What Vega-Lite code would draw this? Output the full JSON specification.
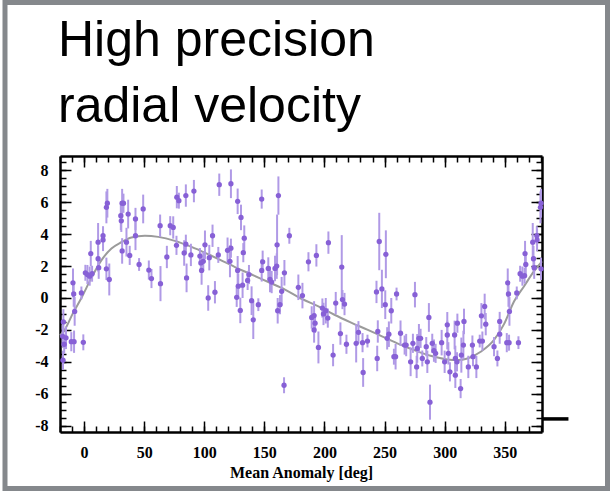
{
"$schema": "https://vega.github.io/schema/vega-lite/v6.json",
"width": 482, "height": 276,
"autosize": {"type": "none"},
"padding": {"left": 60, "top": 156, "right": 68, "bottom": 59},
"background": "white",
"title": {"text": ["High precision", "radial velocity"], "font": "Liberation Sans", "fontSize": 50, "fontWeight": "normal", "color": "black", "anchor": "start", "frame": "group", "lineHeight": 66, "baseline": "alphabetic", "offset": 31, "dy": 203, "dx": -2},
"config": {"view": {"stroke": null}, "axis": {"labelFont": "Liberation Serif", "labelFontWeight": "bold", "labelFontSize": 16, "labelColor": "black", "tickColor": "black", "tickWidth": 1.5, "domainColor": "black", "domainWidth": 2.5, "grid": false, "titleFont": "Liberation Serif", "titleFontWeight": "bold", "titleFontSize": 16, "titleColor": "black"}},
"datasets": {
"obs": [
{"x":-17.5,"y":-3.9,"e":0.6},{"x":-17.2,"y":-1.5,"e":0.8},{"x":-17.8,"y":-2.4,"e":0.7},{"x":-16.5,"y":-2.9,"e":0.6},{"x":-15,"y":-2.5,"e":0.7},{"x":-10.6,"y":-2.74,"e":0.6},{"x":-8.3,"y":-2.74,"e":0.7},{"x":-0.6,"y":-2.78,"e":0.5},{"x":-9.2,"y":0.95,"e":0.9},{"x":-8.6,"y":0.25,"e":0.8},{"x":-7.8,"y":-0.84,"e":0.9},{"x":-2.2,"y":0.32,"e":0.4},{"x":1.1,"y":1.58,"e":0.5},{"x":2.8,"y":1.47,"e":0.6},{"x":4.7,"y":1.37,"e":0.6},{"x":5.6,"y":2.78,"e":0.8},{"x":6.7,"y":1.52,"e":0.5},{"x":11.7,"y":3.5,"e":1.2},{"x":11.7,"y":2.46,"e":0.8},{"x":12.2,"y":1.9,"e":0.7},{"x":15.8,"y":3.64,"e":0.7},{"x":15.8,"y":3.9,"e":0.6},{"x":18.6,"y":5.68,"e":1.0},{"x":19.4,"y":5.94,"e":0.9},{"x":18.6,"y":1.83,"e":0.7},{"x":21,"y":1.16,"e":1.0},{"x":30.6,"y":5.16,"e":0.9},{"x":31,"y":4.84,"e":0.7},{"x":31.7,"y":5.94,"e":0.9},{"x":32.8,"y":5.94,"e":0.6},{"x":36.7,"y":5.26,"e":0.9},{"x":31.7,"y":2.95,"e":0.8},{"x":35.3,"y":3.5,"e":0.9},{"x":38,"y":2.67,"e":0.6},{"x":42.8,"y":4.95,"e":0.7},{"x":42.8,"y":3.9,"e":0.9},{"x":45.8,"y":2.1,"e":0.4},{"x":49.2,"y":5.58,"e":0.9},{"x":53.9,"y":1.75,"e":0.6},{"x":56.1,"y":1.22,"e":0.6},{"x":63.3,"y":4.53,"e":0.7},{"x":63.6,"y":0.9,"e":1.1},{"x":68.9,"y":2.57,"e":0.7},{"x":71.7,"y":4.53,"e":0.6},{"x":74.2,"y":4.42,"e":0.7},{"x":76.9,"y":3.3,"e":0.6},{"x":77.2,"y":6.32,"e":0.7},{"x":78.9,"y":6.1,"e":0.5},{"x":84.7,"y":6.42,"e":0.7},{"x":84.7,"y":3.37,"e":0.6},{"x":83.3,"y":2.82,"e":0.8},{"x":85.3,"y":1.26,"e":0.9},{"x":88.9,"y":2.7,"e":0.7},{"x":91.4,"y":6.7,"e":0.7},{"x":96.4,"y":2.63,"e":0.5},{"x":97.2,"y":2.2,"e":0.6},{"x":97.8,"y":1.73,"e":0.9},{"x":99.2,"y":2.3,"e":0.6},{"x":100.6,"y":3.33,"e":0.9},{"x":103.3,"y":0.0,"e":0.8},{"x":104.2,"y":2.53,"e":0.8},{"x":106.9,"y":3.9,"e":0.7},{"x":108.9,"y":0.36,"e":0.7},{"x":111.7,"y":2.7,"e":0.5},{"x":112.5,"y":7.1,"e":0.7},
{"x":122.2,"y":7.16,"e":0.9},{"x":127.8,"y":6.06,"e":0.8},{"x":130.6,"y":5.05,"e":0.8},{"x":133.3,"y":3.75,"e":0.8},{"x":132.5,"y":2.84,"e":0.6},{"x":119.4,"y":2.99,"e":0.8},{"x":122.2,"y":3.12,"e":0.6},{"x":121.4,"y":2.3,"e":1.0},{"x":127.8,"y":1.73,"e":0.9},{"x":128.3,"y":0.74,"e":0.8},{"x":127,"y":0.04,"e":0.6},{"x":130,"y":-0.78,"e":0.8},{"x":131.9,"y":0.8,"e":0.8},{"x":136.1,"y":1.1,"e":0.6},{"x":137.2,"y":1.47,"e":0.6},{"x":139.4,"y":-0.17,"e":0.9},{"x":140.8,"y":-1.37,"e":1.2},{"x":145,"y":-0.42,"e":0.4},{"x":147.8,"y":6.2,"e":0.6},{"x":148.6,"y":2.27,"e":0.7},{"x":147.8,"y":1.73,"e":0.7},{"x":153.3,"y":1.85,"e":0.7},{"x":154.7,"y":1.16,"e":0.8},{"x":156.1,"y":1.0,"e":0.7},{"x":158.9,"y":1.85,"e":0.8},{"x":160.3,"y":2.0,"e":0.8},{"x":160.6,"y":3.33,"e":1.9},{"x":161.7,"y":6.42,"e":1.2},{"x":161.1,"y":-0.8,"e":0.8},{"x":163,"y":-0.42,"e":0.6},{"x":164.4,"y":0.42,"e":0.9},{"x":166.7,"y":1.58,"e":0.8},{"x":166.4,"y":-5.47,"e":0.5},{"x":170.8,"y":3.9,"e":0.5},{"x":178.3,"y":0.67,"e":0.8},{"x":181.7,"y":0.15,"e":0.8},{"x":186.7,"y":2.27,"e":0.6},{"x":193.3,"y":2.67,"e":0.7},{"x":189.4,"y":-1.22,"e":0.7},{"x":191.4,"y":-1.1,"e":0.9},{"x":192.2,"y":-1.58,"e":0.6},{"x":191.4,"y":-2.0,"e":0.8},{"x":195,"y":-3.1,"e":1.0},{"x":198.3,"y":-0.63,"e":0.6},{"x":199.2,"y":-1.0,"e":0.7},{"x":201.1,"y":-0.8,"e":0.8},{"x":202.8,"y":-1.26,"e":0.6},{"x":203.3,"y":3.47,"e":0.7},{"x":207.2,"y":-3.58,"e":0.7},{"x":209.4,"y":-0.32,"e":0.7},{"x":213.3,"y":-2.23,"e":0.7},{"x":214.4,"y":1.94,"e":2.0},{"x":215,"y":-0.1,"e":0.6},{"x":216.7,"y":-0.38,"e":0.7},{"x":218.3,"y":-2.9,"e":0.6},{"x":226.4,"y":-2.84,"e":1.2},{"x":228.3,"y":-2.15,"e":0.7},{"x":231.7,"y":-2.8,"e":0.6},{"x":232.2,"y":-4.67,"e":0.9},{"x":235.8,"y":-2.7,"e":0.4},{"x":243.9,"y":-3.79,"e":0.8},{"x":244.4,"y":-2.1,"e":0.7},{"x":243.3,"y":0.38,"e":0.7},{"x":245.6,"y":3.54,"e":1.8},{"x":247.8,"y":0.57,"e":1.2},
{"x":251.1,"y":2.74,"e":1.5},{"x":250.6,"y":-0.42,"e":0.9},{"x":255.6,"y":-0.8,"e":0.8},{"x":252.2,"y":-2.53,"e":0.7},{"x":253.6,"y":-2.27,"e":0.8},{"x":257.8,"y":-3.68,"e":0.5},{"x":259.2,"y":-3.68,"e":0.8},{"x":260,"y":0.25,"e":0.4},{"x":263.3,"y":-2.21,"e":0.8},{"x":266.7,"y":-2.95,"e":0.6},{"x":268,"y":-2.95,"e":0.7},{"x":271.7,"y":-4.0,"e":0.9},{"x":273.6,"y":-2.84,"e":0.6},{"x":275.3,"y":0.21,"e":0.8},{"x":276.7,"y":-4.32,"e":0.7},{"x":277.2,"y":-3.16,"e":0.9},{"x":278.6,"y":-2.53,"e":0.9},{"x":280,"y":-2.53,"e":0.6},{"x":281.4,"y":-3.79,"e":0.5},{"x":284.7,"y":-3.05,"e":0.6},{"x":285.6,"y":-4.0,"e":0.7},{"x":286.9,"y":-1.22,"e":0.9},{"x":287.8,"y":-6.53,"e":1.1},{"x":289.7,"y":-2.84,"e":0.6},{"x":291.1,"y":-3.3,"e":0.7},{"x":292.5,"y":-3.47,"e":0.6},{"x":297.5,"y":-2.8,"e":0.8},{"x":300,"y":-4.0,"e":0.7},{"x":302.2,"y":-1.68,"e":0.8},{"x":302.2,"y":-2.32,"e":0.9},{"x":303.1,"y":-3.47,"e":0.7},{"x":304.4,"y":-4.63,"e":0.6},{"x":308.3,"y":-2.32,"e":0.9},{"x":308.9,"y":-3.79,"e":0.8},{"x":308.9,"y":-4.84,"e":0.8},{"x":310.6,"y":-1.58,"e":0.6},{"x":310.3,"y":-4.0,"e":0.6},{"x":313.3,"y":-5.68,"e":0.6},{"x":313.9,"y":-3.58,"e":1.1},{"x":316.1,"y":-1.47,"e":0.8},{"x":315.6,"y":-2.95,"e":0.9},{"x":319.7,"y":-4.32,"e":0.7},{"x":323.1,"y":-2.95,"e":0.6},{"x":323.6,"y":-3.68,"e":0.6},{"x":326.4,"y":-4.32,"e":0.7},{"x":329.2,"y":-2.7,"e":0.4},{"x":330.6,"y":-1.12,"e":0.8},{"x":331.4,"y":-2.7,"e":0.6},{"x":333.3,"y":-0.53,"e":0.8},{"x":334.2,"y":-1.64,"e":0.7},{"x":341.1,"y":-3.05,"e":0.6},{"x":343.9,"y":-3.79,"e":0.5},{"x":345.8,"y":-1.47,"e":0.6},{"x":345.8,"y":-2.27,"e":0.6},{"x":351.7,"y":-2.8,"e":0.6},{"x":353.6,"y":-2.8,"e":0.5},{"x":361.4,"y":-2.8,"e":0.4},{"x":352.5,"y":0.95,"e":0.9},{"x":353.1,"y":0.25,"e":0.8},{"x":353.9,"y":-0.84,"e":0.9},{"x":360,"y":0.32,"e":0.4},{"x":362.8,"y":1.52,"e":0.5},{"x":364.7,"y":1.37,"e":0.6},{"x":366.5,"y":1.4,"e":0.5},{"x":367.5,"y":2.1,"e":0.6},{"x":366.9,"y":2.78,"e":0.8},{"x":373.3,"y":3.5,"e":1.2},{"x":373.9,"y":2.46,"e":0.8},{"x":374.5,"y":1.9,"e":0.7},{"x":376.9,"y":3.64,"e":0.7},{"x":376.7,"y":3.9,"e":0.6},{"x":379.7,"y":5.68,"e":1.0},{"x":380.2,"y":5.94,"e":0.9},{"x":380.2,"y":1.83,"e":0.7}
],
"curve": [
{"x":-20,"y":-2.35},{"x":-16.1,"y":-2.0},{"x":-9.2,"y":-0.95},{"x":-2.2,"y":0},{"x":6.1,"y":1.26},{"x":14.4,"y":2.36},{"x":22.8,"y":3.1},{"x":31.1,"y":3.5},{"x":39.4,"y":3.79},{"x":50.6,"y":3.9},{"x":61.7,"y":3.83},{"x":75.6,"y":3.58},{"x":89.4,"y":3.2},{"x":103.3,"y":2.74},{"x":115.8,"y":2.3},{"x":125.6,"y":1.94},{"x":139.4,"y":1.47},{"x":153.3,"y":1.0},{"x":167.2,"y":0.53},{"x":179.7,"y":0},{"x":195,"y":-0.53},{"x":208.3,"y":-1.05},{"x":222.2,"y":-1.54},{"x":236.1,"y":-2.0},{"x":248.3,"y":-2.42},{"x":260.6,"y":-2.84},{"x":274.4,"y":-3.26},{"x":288.3,"y":-3.62},{"x":302.2,"y":-3.85},{"x":310.6,"y":-3.89},{"x":319,"y":-3.79},{"x":330,"y":-3.37},{"x":341.1,"y":-2.63},{"x":349.4,"y":-1.64},{"x":357.8,"y":-0.21},{"x":366.1,"y":0.74},{"x":374.4,"y":1.68},{"x":381,"y":2.3}
],
"stray": [{"x":381,"x2":403,"y":-7.58}],
"frame": [{"left":-65.76,"right":435.5,"top":18.52,"bottom":-11.94}]
},
"layer": [
{"data": {"name": "frame"},
 "mark": {"type": "rect", "filled": false, "fill": "transparent", "stroke": "#85888c", "strokeWidth": 5, "strokeOpacity": 1, "clip": false},
 "encoding": {
  "x": {"field": "left", "type": "quantitative", "scale": {"domain": [-20, 381], "nice": false, "zero": false}, "axis": null},
  "x2": {"field": "right"},
  "y": {"field": "top", "type": "quantitative", "scale": {"domain": [-8.4, 8.9], "nice": false, "zero": false}, "axis": null},
  "y2": {"field": "bottom"}
 }},
{"mark": {"type": "rule", "color": "#444444", "strokeWidth": 1.5, "strokeDash": [6, 4]},
 "encoding": {"y": {"datum": 0, "type": "quantitative", "scale": {"domain": [-8.4, 8.9], "nice": false, "zero": false}, "axis": null}}},
{"data": {"name": "curve"},
 "mark": {"type": "line", "color": "#9b9b9b", "strokeWidth": 2, "interpolate": "monotone"},
 "encoding": {
  "x": {"field": "x", "type": "quantitative", "scale": {"domain": [-20, 381], "nice": false, "zero": false},
        "axis": {"orient": "top", "values": [0,50,100,150,200,250,300,350], "tickSize": -11, "labels": false, "domain": true, "title": null}},
  "y": {"field": "y", "type": "quantitative", "scale": {"domain": [-8.4, 8.9], "nice": false, "zero": false},
        "axis": {"orient": "right", "values": [-8,-6,-4,-2,0,2,4,6,8], "tickSize": -11, "labels": false, "domain": true, "title": null}}
 }},
{"data": {"name": "obs"},
 "mark": {"type": "errorbar", "color": "#b09ae6", "thickness": 2},
 "encoding": {
  "x": {"field": "x", "type": "quantitative", "scale": {"domain": [-20, 381], "nice": false, "zero": false},
        "axis": {"orient": "bottom", "values": [-20,-10,0,10,20,30,40,50,60,70,80,90,100,110,120,130,140,150,160,170,180,190,200,210,220,230,240,250,260,270,280,290,300,310,320,330,340,350,360,370,380], "tickSize": -6, "labels": false, "domain": false, "title": null}},
  "y": {"field": "y", "type": "quantitative", "scale": {"domain": [-8.4, 8.9], "nice": false, "zero": false},
        "axis": {"orient": "left", "values": [-8,-7.5,-7,-6.5,-6,-5.5,-5,-4.5,-4,-3.5,-3,-2.5,-2,-1.5,-1,-0.5,0,0.5,1,1.5,2,2.5,3,3.5,4,4.5,5,5.5,6,6.5,7,7.5,8,8.5], "tickSize": -6, "labels": false, "domain": false, "title": null}},
  "yError": {"field": "e"}
 }},
{"data": {"name": "obs"},
 "mark": {"type": "point", "filled": true, "size": 28, "color": "#8760d6", "opacity": 1},
 "encoding": {
  "x": {"field": "x", "type": "quantitative", "scale": {"domain": [-20, 381], "nice": false, "zero": false},
        "axis": {"orient": "bottom", "values": [0,50,100,150,200,250,300,350], "tickSize": -11, "labelPadding": 23, "labelExpr": "'' + datum.value", "domain": true, "title": "Mean Anomaly [deg]", "titlePadding": 4}},
  "y": {"field": "y", "type": "quantitative", "scale": {"domain": [-8.4, 8.9], "nice": false, "zero": false},
        "axis": {"orient": "left", "values": [-8,-6,-4,-2,0,2,4,6,8], "tickSize": -11, "labelPadding": 23, "labelExpr": "'' + datum.value", "domain": true, "title": null}}
 }},
{"data": {"name": "stray"},
 "mark": {"type": "rule", "color": "black", "strokeWidth": 3.5},
 "encoding": {
  "x": {"field": "x", "type": "quantitative", "scale": {"domain": [-20, 381], "nice": false, "zero": false},
        "axis": {"orient": "top", "values": [-20,-10,0,10,20,30,40,50,60,70,80,90,100,110,120,130,140,150,160,170,180,190,200,210,220,230,240,250,260,270,280,290,300,310,320,330,340,350,360,370,380], "tickSize": -6, "labels": false, "domain": false, "title": null}},
  "x2": {"field": "x2"},
  "y": {"field": "y", "type": "quantitative", "scale": {"domain": [-8.4, 8.9], "nice": false, "zero": false},
        "axis": {"orient": "right", "values": [-8,-7.5,-7,-6.5,-6,-5.5,-5,-4.5,-4,-3.5,-3,-2.5,-2,-1.5,-1,-0.5,0,0.5,1,1.5,2,2.5,3,3.5,4,4.5,5,5.5,6,6.5,7,7.5,8,8.5], "tickSize": -6, "labels": false, "domain": false, "title": null}}
 }}
],
"resolve": {"axis": {"x": "independent", "y": "independent"}}
}
